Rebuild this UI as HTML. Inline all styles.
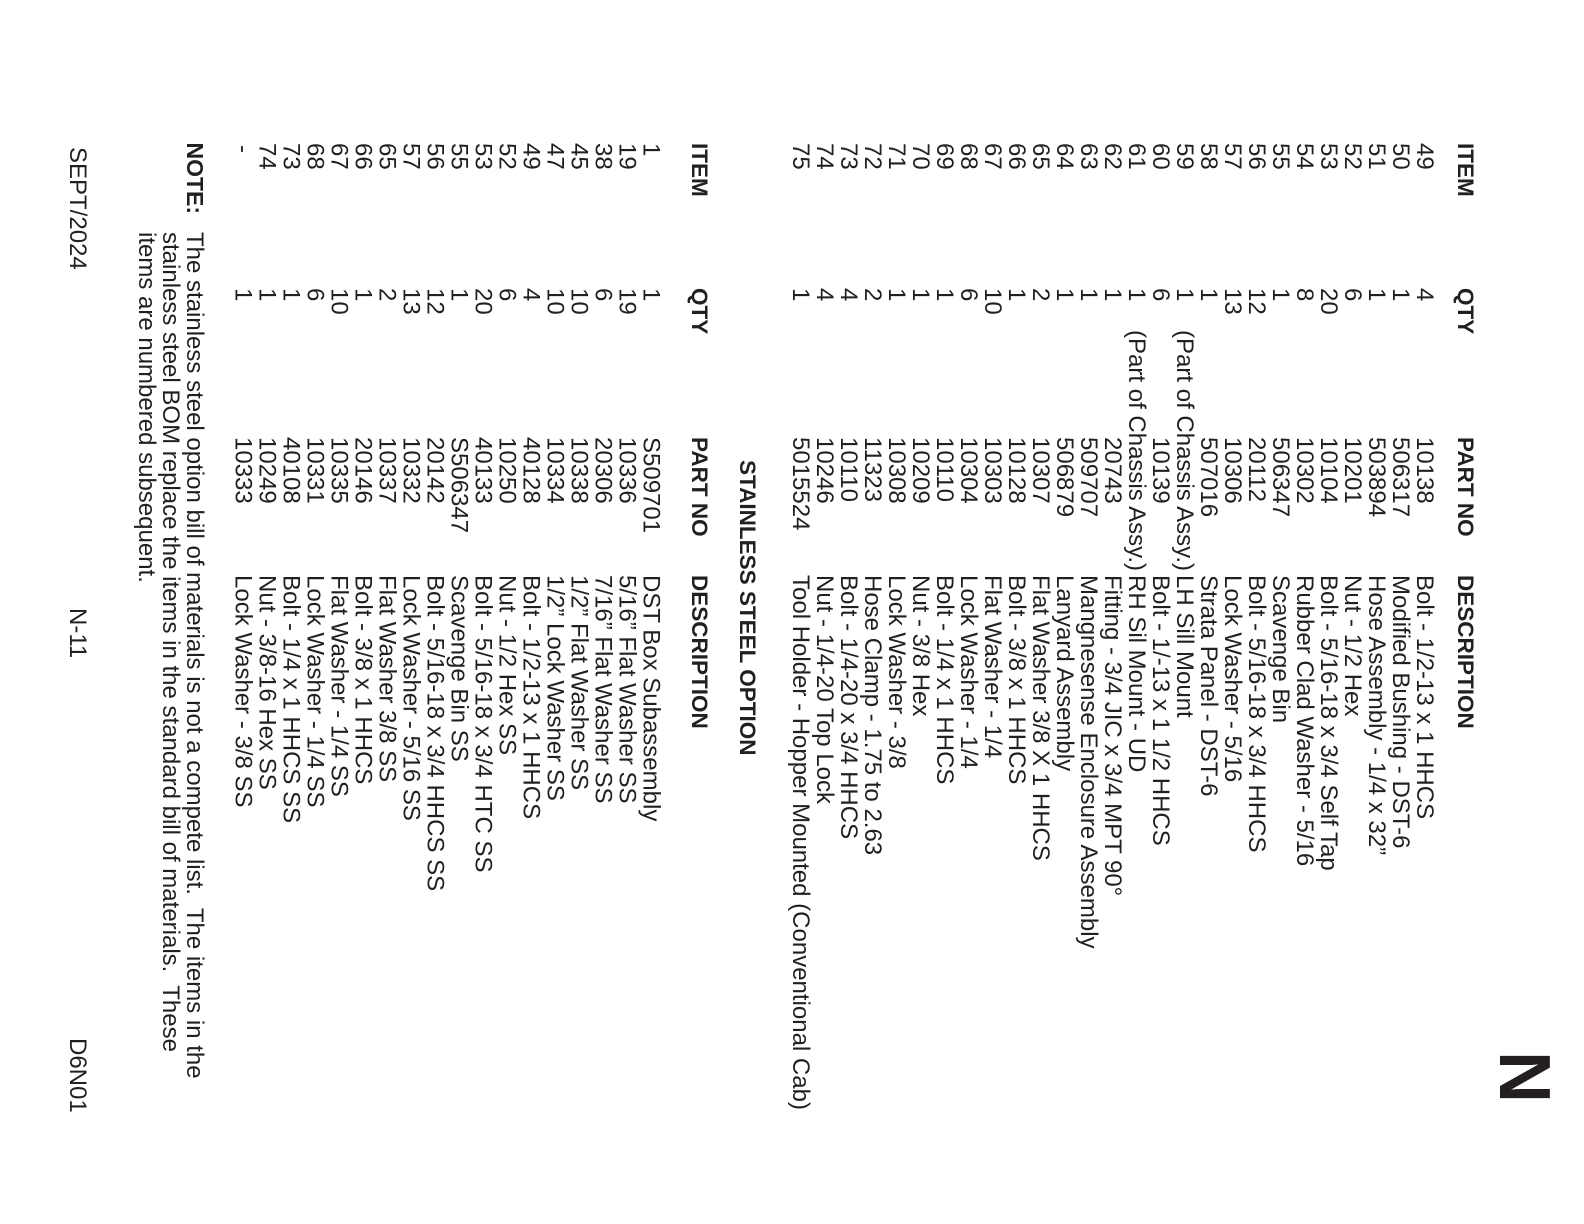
<!DOCTYPE html>
<html>
<head>
<meta charset="utf-8">
<style>
html,body{margin:0;padding:0;background:#fff;}
svg{display:block;}
text{white-space:pre;}
</style>
</head>
<body>
<svg width="1584" height="1224" viewBox="0 0 1584 1224" xmlns="http://www.w3.org/2000/svg">
<rect width="1584" height="1224" fill="#ffffff"/>
<g transform="translate(1584,0) rotate(90)" font-family="'Liberation Sans', Arial, Helvetica, sans-serif" font-size="24" fill="#231f20">

<!-- Big section letter -->
<text x="1051" y="84" font-size="72" font-weight="700">N</text>

<!-- Header 1 -->
<g font-weight="700" font-size="22.5">
<text x="143" y="126">ITEM</text>
<text x="288" y="126">QTY</text>
<text x="437" y="126">PART NO</text>
<text x="575" y="126">DESCRIPTION</text>
</g>

<!-- Section 1 ITEM column -->
<text>
<tspan x="143" y="167">49</tspan><tspan x="143" y="191">50</tspan><tspan x="143" y="215">51</tspan><tspan x="143" y="239">52</tspan><tspan x="143" y="263">53</tspan><tspan x="143" y="287">54</tspan><tspan x="143" y="311">55</tspan><tspan x="143" y="335">56</tspan><tspan x="143" y="359">57</tspan><tspan x="143" y="383">58</tspan><tspan x="143" y="407">59</tspan><tspan x="143" y="431">60</tspan><tspan x="143" y="455">61</tspan><tspan x="143" y="479">62</tspan><tspan x="143" y="503">63</tspan><tspan x="143" y="527">64</tspan><tspan x="143" y="551">65</tspan><tspan x="143" y="575">66</tspan><tspan x="143" y="599">67</tspan><tspan x="143" y="623">68</tspan><tspan x="143" y="647">69</tspan><tspan x="143" y="671">70</tspan><tspan x="143" y="695">71</tspan><tspan x="143" y="719">72</tspan><tspan x="143" y="743">73</tspan><tspan x="143" y="767">74</tspan><tspan x="143" y="791">75</tspan>
</text>

<!-- Section 1 QTY column -->
<text>
<tspan x="288" y="167">4</tspan><tspan x="288" y="191">1</tspan><tspan x="288" y="215">1</tspan><tspan x="288" y="239">6</tspan><tspan x="288" y="263">20</tspan><tspan x="288" y="287">8</tspan><tspan x="288" y="311">1</tspan><tspan x="288" y="335">12</tspan><tspan x="288" y="359">13</tspan><tspan x="288" y="383">1</tspan><tspan x="288" y="407">1</tspan><tspan x="288" y="431">6</tspan><tspan x="288" y="455">1</tspan><tspan x="288" y="479">1</tspan><tspan x="288" y="503">1</tspan><tspan x="288" y="527">1</tspan><tspan x="288" y="551">2</tspan><tspan x="288" y="575">1</tspan><tspan x="288" y="599">10</tspan><tspan x="288" y="623">6</tspan><tspan x="288" y="647">1</tspan><tspan x="288" y="671">1</tspan><tspan x="288" y="695">1</tspan><tspan x="288" y="719">2</tspan><tspan x="288" y="743">4</tspan><tspan x="288" y="767">4</tspan><tspan x="288" y="791">1</tspan>
</text>

<!-- Section 1 PART NO column -->
<text>
<tspan x="437" y="167">10138</tspan><tspan x="437" y="191">506317</tspan><tspan x="437" y="215">503894</tspan><tspan x="437" y="239">10201</tspan><tspan x="437" y="263">10104</tspan><tspan x="437" y="287">10302</tspan><tspan x="437" y="311">506347</tspan><tspan x="437" y="335">20112</tspan><tspan x="437" y="359">10306</tspan><tspan x="437" y="383">507016</tspan><tspan x="437" y="431">10139</tspan><tspan x="437" y="479">20743</tspan><tspan x="437" y="503">509707</tspan><tspan x="437" y="527">506879</tspan><tspan x="437" y="551">10307</tspan><tspan x="437" y="575">10128</tspan><tspan x="437" y="599">10303</tspan><tspan x="437" y="623">10304</tspan><tspan x="437" y="647">10110</tspan><tspan x="437" y="671">10209</tspan><tspan x="437" y="695">10308</tspan><tspan x="437" y="719">11323</tspan><tspan x="437" y="743">10110</tspan><tspan x="437" y="767">10246</tspan><tspan x="437" y="791">5015524</tspan>
</text>
<text text-anchor="end" x="571" y="407">(Part of Chassis Assy.)</text>
<text text-anchor="end" x="571" y="455">(Part of Chassis Assy.)</text>

<!-- Section 1 DESCRIPTION column -->
<text>
<tspan x="575" y="167">Bolt - 1/2-13 x 1 HHCS</tspan>
<tspan x="575" y="191">Modified Bushing - DST-6</tspan>
<tspan x="575" y="215">Hose Assembly - 1/4 x 32”</tspan>
<tspan x="575" y="239">Nut - 1/2 Hex</tspan>
<tspan x="575" y="263">Bolt - 5/16-18 x 3/4 Self Tap</tspan>
<tspan x="575" y="287">Rubber Clad Washer - 5/16</tspan>
<tspan x="575" y="311">Scavenge Bin</tspan>
<tspan x="575" y="335">Bolt - 5/16-18 x 3/4 HHCS</tspan>
<tspan x="575" y="359">Lock Washer - 5/16</tspan>
<tspan x="575" y="383">Strata Panel - DST-6</tspan>
<tspan x="575" y="407">LH Sill Mount</tspan>
<tspan x="575" y="431">Bolt - 1/-13 x 1 1/2 HHCS</tspan>
<tspan x="575" y="455">RH Sil Mount - UD</tspan>
<tspan x="575" y="479">Fitting - 3/4 JIC x 3/4 MPT 90°</tspan>
<tspan x="575" y="503">Mangnesense Enclosure Assembly</tspan>
<tspan x="575" y="527">Lanyard Assembly</tspan>
<tspan x="575" y="551">Flat Washer 3/8 X 1 HHCS</tspan>
<tspan x="575" y="575">Bolt - 3/8 x 1 HHCS</tspan>
<tspan x="575" y="599">Flat Washer - 1/4</tspan>
<tspan x="575" y="623">Lock Washer - 1/4</tspan>
<tspan x="575" y="647">Bolt - 1/4 x 1 HHCS</tspan>
<tspan x="575" y="671">Nut - 3/8 Hex</tspan>
<tspan x="575" y="695">Lock Washer - 3/8</tspan>
<tspan x="575" y="719">Hose Clamp - 1.75 to 2.63</tspan>
<tspan x="575" y="743">Bolt - 1/4-20 x 3/4 HHCS</tspan>
<tspan x="575" y="767">Nut - 1/4-20 Top Lock</tspan>
<tspan x="575" y="791">Tool Holder - Hopper Mounted (Conventional Cab)</tspan>
</text>

<!-- Section title -->
<text x="460" y="844" font-weight="700" font-size="22.5">STAINLESS STEEL OPTION</text>

<!-- Header 2 -->
<g font-weight="700" font-size="22.5">
<text x="143" y="892">ITEM</text>
<text x="288" y="892">QTY</text>
<text x="437" y="892">PART NO</text>
<text x="575" y="892">DESCRIPTION</text>
</g>

<!-- Section 2 ITEM -->
<text>
<tspan x="143" y="940.5">1</tspan><tspan x="143" y="964.5">19</tspan><tspan x="143" y="988.5">38</tspan><tspan x="143" y="1012.5">45</tspan><tspan x="143" y="1036.5">47</tspan><tspan x="143" y="1060.5">49</tspan><tspan x="143" y="1084.5">52</tspan><tspan x="143" y="1108.5">53</tspan><tspan x="143" y="1132.5">55</tspan><tspan x="143" y="1156.5">56</tspan><tspan x="143" y="1180.5">57</tspan><tspan x="143" y="1204.5">65</tspan><tspan x="143" y="1228.5">66</tspan><tspan x="143" y="1252.5">67</tspan><tspan x="143" y="1276.5">68</tspan><tspan x="143" y="1300.5">73</tspan><tspan x="143" y="1324.5">74</tspan><tspan x="145" y="1348.5">-</tspan>
</text>

<!-- Section 2 QTY -->
<text>
<tspan x="288" y="940.5">1</tspan><tspan x="288" y="964.5">19</tspan><tspan x="288" y="988.5">6</tspan><tspan x="288" y="1012.5">10</tspan><tspan x="288" y="1036.5">10</tspan><tspan x="288" y="1060.5">4</tspan><tspan x="288" y="1084.5">6</tspan><tspan x="288" y="1108.5">20</tspan><tspan x="288" y="1132.5">1</tspan><tspan x="288" y="1156.5">12</tspan><tspan x="288" y="1180.5">13</tspan><tspan x="288" y="1204.5">2</tspan><tspan x="288" y="1228.5">1</tspan><tspan x="288" y="1252.5">10</tspan><tspan x="288" y="1276.5">6</tspan><tspan x="288" y="1300.5">1</tspan><tspan x="288" y="1324.5">1</tspan><tspan x="288" y="1348.5">1</tspan>
</text>

<!-- Section 2 PART NO -->
<text>
<tspan x="437" y="940.5">S509701</tspan><tspan x="437" y="964.5">10336</tspan><tspan x="437" y="988.5">20306</tspan><tspan x="437" y="1012.5">10338</tspan><tspan x="437" y="1036.5">10334</tspan><tspan x="437" y="1060.5">40128</tspan><tspan x="437" y="1084.5">10250</tspan><tspan x="437" y="1108.5">40133</tspan><tspan x="437" y="1132.5">S506347</tspan><tspan x="437" y="1156.5">20142</tspan><tspan x="437" y="1180.5">10332</tspan><tspan x="437" y="1204.5">10337</tspan><tspan x="437" y="1228.5">20146</tspan><tspan x="437" y="1252.5">10335</tspan><tspan x="437" y="1276.5">10331</tspan><tspan x="437" y="1300.5">40108</tspan><tspan x="437" y="1324.5">10249</tspan><tspan x="437" y="1348.5">10333</tspan>
</text>

<!-- Section 2 DESCRIPTION -->
<text>
<tspan x="575" y="940.5">DST Box Subassembly</tspan>
<tspan x="575" y="964.5">5/16” Flat Washer SS</tspan>
<tspan x="575" y="988.5">7/16” Flat Washer SS</tspan>
<tspan x="575" y="1012.5">1/2” Flat Washer SS</tspan>
<tspan x="575" y="1036.5">1/2” Lock Washer SS</tspan>
<tspan x="575" y="1060.5">Bolt - 1/2-13 x 1 HHCS</tspan>
<tspan x="575" y="1084.5">Nut - 1/2 Hex SS</tspan>
<tspan x="575" y="1108.5">Bolt - 5/16-18 x 3/4 HTC SS</tspan>
<tspan x="575" y="1132.5">Scavenge Bin SS</tspan>
<tspan x="575" y="1156.5">Bolt - 5/16-18 x 3/4 HHCS SS</tspan>
<tspan x="575" y="1180.5">Lock Washer - 5/16 SS</tspan>
<tspan x="575" y="1204.5">Flat Washer 3/8 SS</tspan>
<tspan x="575" y="1228.5">Bolt - 3/8 x 1 HHCS</tspan>
<tspan x="575" y="1252.5">Flat Washer - 1/4 SS</tspan>
<tspan x="575" y="1276.5">Lock Washer - 1/4 SS</tspan>
<tspan x="575" y="1300.5">Bolt - 1/4 x 1 HHCS SS</tspan>
<tspan x="575" y="1324.5">Nut - 3/8-16 Hex SS</tspan>
<tspan x="575" y="1348.5">Lock Washer - 3/8 SS</tspan>
</text>

<!-- Note -->
<text x="142.5" y="1397" font-weight="700" font-size="23">NOTE:</text>
<g font-size="24">
<text x="232" y="1397">The stainless steel option bill of materials is not a compete list.  The items in the</text>
<text x="232" y="1421">stainless steel BOM replace the items in the standard bill of materials.  These</text>
<text x="232" y="1445">items are numbered subsequent.</text>
</g>

<!-- Footer -->
<text x="147" y="1514">SEPT/2024</text>
<text x="608" y="1514">N-11</text>
<text x="1038" y="1514">D6N01</text>

</g>
</svg>
</body>
</html>
